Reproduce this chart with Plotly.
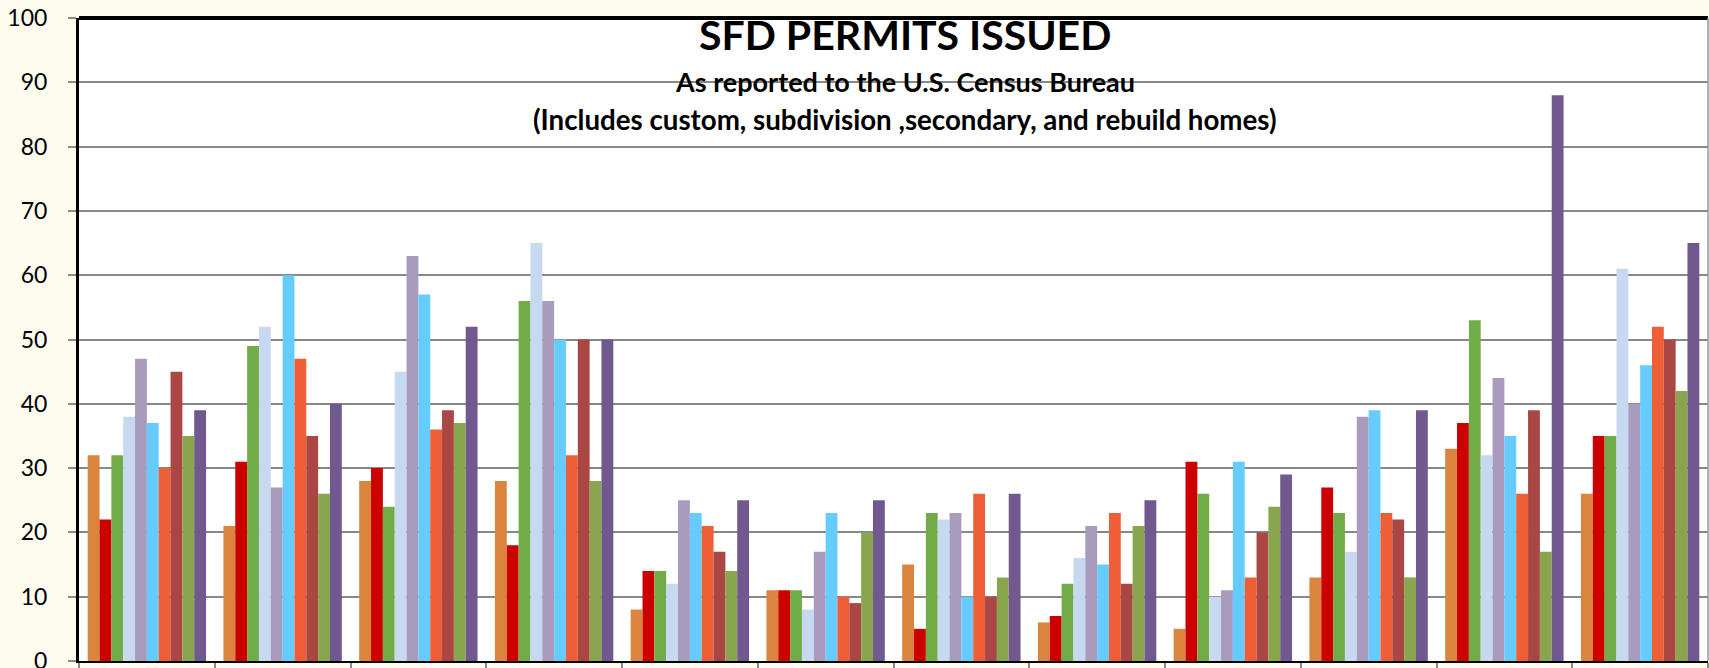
import plotly.graph_objects as go

months = ["Jan", "Feb", "Mar", "Apr", "May", "Jun",
          "Jul", "Aug", "Sep", "Oct", "Nov", "Dec"]

series_names = ["Series 1", "Series 2", "Series 3", "Series 4", "Series 5",
                "Series 6", "Series 7", "Series 8", "Series 9", "Series 10"]

s1 = [32, 21, 28, 28, 8, 11, 15, 6, 5, 13, 33, 26]
s2 = [22, 31, 30, 18, 14, 11, 5, 7, 31, 27, 37, 35]
s3 = [32, 49, 24, 56, 14, 11, 23, 12, 26, 23, 53, 35]
s4 = [38, 52, 45, 65, 12, 8, 22, 16, 10, 17, 32, 61]
s5 = [47, 27, 63, 56, 25, 17, 23, 21, 11, 38, 44, 40]
s6 = [37, 60, 57, 50, 23, 23, 10, 15, 31, 39, 35, 46]
s7 = [30, 47, 36, 32, 21, 10, 26, 23, 13, 23, 26, 52]
s8 = [45, 35, 39, 50, 17, 9, 10, 12, 20, 22, 39, 50]
s9 = [35, 26, 37, 28, 14, 20, 13, 21, 24, 13, 17, 42]
s10 = [39, 40, 52, 50, 25, 25, 26, 25, 29, 39, 88, 65]

series_values = [s1, s2, s3, s4, s5, s6, s7, s8, s9, s10]

colors = ["#DB843D", "#CC0000", "#72AC48", "#C6D9F1", "#A99BBD",
          "#66CCFF", "#EE5F38", "#AA4643", "#89A54E", "#71588F"]

title_text = "SFD PERMITS ISSUED"
subtitle1 = "As reported to the U.S. Census Bureau"
subtitle2 = "(Includes custom, subdivision ,secondary, and rebuild homes)"

y_ticks = [0, 10, 20, 30, 40, 50, 60, 70, 80, 90, 100]

fig = go.Figure()
for name, vals, col in zip(series_names, series_values, colors):
    fig.add_trace(go.Bar(x=months, y=vals, name=name,
                         marker=dict(color=col, line=dict(width=0))))

FONT = "Lato, 'Open Sans', sans-serif"
BG = "#FEFBEF"
TOP = 18
PH = 643

fig.update_layout(
    width=1709, height=668,
    barmode="group", bargap=0.128, bargroupgap=0,
    paper_bgcolor=BG, plot_bgcolor="#FFFFFF",
    margin=dict(l=79, r=1, t=TOP, b=7, pad=0, autoexpand=False),
    showlegend=False,
    font=dict(family=FONT, color="#000000"),
    xaxis=dict(type="category", showgrid=False, showline=True,
               linecolor="#000000", linewidth=2,
               ticks="outside", tickson="boundaries", ticklen=6,
               tickcolor="#8A8A8A", tickwidth=2,
               showticklabels=False, zeroline=False, automargin=False),
    yaxis=dict(range=[0, 100], tickvals=y_ticks, showline=True,
               linecolor="#000000", linewidth=3,
               ticks="outside", ticklen=8, tickcolor="#8A8A8A", tickwidth=2,
               gridcolor="#888888", gridwidth=2, zeroline=False,
               tickfont=dict(family=FONT, size=23, color="#000000"),
               ticklabelstandoff=16, ticklabeloverflow="allow",
               automargin=False),
    shapes=[
        dict(type="line", xref="paper", yref="paper", x0=0, x1=1, y0=1, y1=1,
             line=dict(color="#000000", width=4), layer="above"),
        dict(type="line", xref="paper", yref="paper", x0=1, x1=1, y0=0, y1=1,
             line=dict(color="#999999", width=1.5), layer="above"),
    ],
    annotations=[
        dict(text="<b>%s</b>" % title_text, xref="paper", yref="paper",
             x=0.507, y=1 - (34 - TOP) / PH, xanchor="center", yanchor="middle",
             showarrow=False, font=dict(family=FONT, size=41, color="#000000")),
        dict(text="<b>%s</b>" % subtitle1, xref="paper", yref="paper",
             x=0.507, y=1 - (82 - TOP) / PH, xanchor="center", yanchor="middle",
             showarrow=False, font=dict(family=FONT, size=27, color="#000000")),
        dict(text="<b>%s</b>" % subtitle2, xref="paper", yref="paper",
             x=0.507, y=1 - (120 - TOP) / PH, xanchor="center", yanchor="middle",
             showarrow=False, font=dict(family=FONT, size=27.7, color="#000000")),
    ],
)

fig.write_html(
    "out.html",
    config={"displayModeBar": False},
    post_script="document.body.style.margin='0';"
                "document.body.style.background='%s';"
                "document.body.style.overflow='hidden';" % BG,
)
